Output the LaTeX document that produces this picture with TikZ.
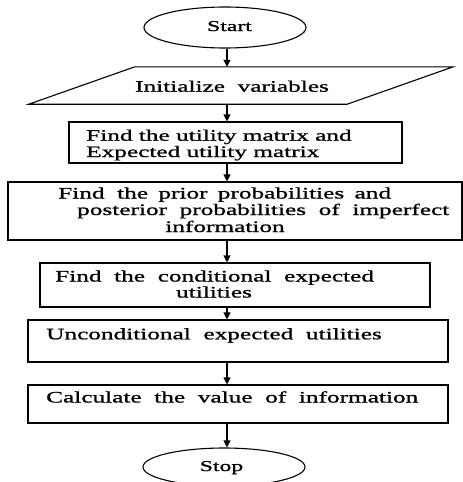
\documentclass[tikz,border=0pt]{standalone}
\usepackage{fontspec}
\setmainfont{Liberation Serif}[FakeStretch=1.58,FakeBold=1.1]
\usetikzlibrary{shapes.geometric,arrows.meta}
\begin{document}
\begin{tikzpicture}[x=1pt,y=-1pt,
  every node/.style={inner sep=0pt},
  box/.style={draw, line width=1.1pt, rectangle},
  term/.style={draw, line width=1.1pt, ellipse, font=\fontsize{16}{17}\selectfont},
  txt/.style={anchor=base west, font=\fontsize{16}{17}\selectfont},
  ctxt/.style={anchor=base, font=\fontsize{16}{17}\selectfont},
  arr/.style={line width=1.1pt, -{Triangle[width=7pt,length=7pt]}}]
\useasboundingbox (0,0) rectangle (463,482);
\coordinate (ax) at (227,0);
% terminals
\node[term, minimum width=162pt, minimum height=41pt] (start) at (225,27.5) {};
\node[term, minimum width=162pt, minimum height=38pt] (stop) at (224,467) {};
\node[ctxt, font=\fontsize{15}{17}\selectfont] (tstart) at (229.5,31) {Start};
\node[ctxt, font=\fontsize{15}{17}\selectfont] (tstop) at (221.5,471) {Stop};
% input
\node[minimum width=424pt, minimum height=37pt] (init) at (241,85.5) {};
\draw[line width=1.1pt] (init.south west) -- ([xshift=106pt]init.north west) -- (init.north east) -- ([xshift=-106pt]init.south east) -- cycle;
\node[ctxt] (tinit) at (232,91.7) {Initialize\ \ variables};
% process boxes
\node[box, minimum width=333pt, minimum height=41pt] (b1) at (235.5,142.5) {};
\node[box, minimum width=454pt, minimum height=58pt] (b2) at (235,211) {};
\node[box, minimum width=390pt, minimum height=44pt] (b3) at (235,285) {};
\node[box, minimum width=420pt, minimum height=42pt] (b4) at (238,341) {};
\node[box, minimum width=420pt, minimum height=38pt] (b5) at (238,404) {};
% texts
\node[txt] (t1a) at (86,140.7) {Find the utility matrix and};
\node[txt] (t1b) at (86,157) {Expected utility matrix};
\node[txt] (t2a) at (58,198.5) {Find\ \ the\hspace{4pt} prior\hspace{4pt} probabilities\hspace{4pt} and};
\node[txt] (t2b) at (77,215) {posterior\ \ probabilities\ \ of\ \ imperfect};
\node[ctxt] (t2c) at (225,232) {information};
\node[txt] (t3a) at (55,281.5) {Find\ \ the\ \ conditional\ \ expected};
\node[ctxt] (t3b) at (214,297.5) {utilities};
\node[txt] (t4) at (46,339.3) {Unconditional\ \ expected\ \ utilities};
\node[txt] (t5) at (46,402.5) {Calculate\ \ the\ \ value\ \ of\ \ information};
% connectors
\draw[arr] (start.south -| ax) -- (init.north -| ax);
\draw[arr] (init.south -| ax) -- (b1.north -| ax);
\draw[arr] (b1.south -| ax) -- (b2.north -| ax);
\draw[arr] (b2.south -| ax) -- (b3.north -| ax);
\draw[arr] (b3.south -| ax) -- (b4.north -| ax);
\draw[arr] (b4.south -| ax) -- (b5.north -| ax);
\draw[arr] (b5.south -| ax) -- (stop.north -| ax);
\end{tikzpicture}
\end{document}
